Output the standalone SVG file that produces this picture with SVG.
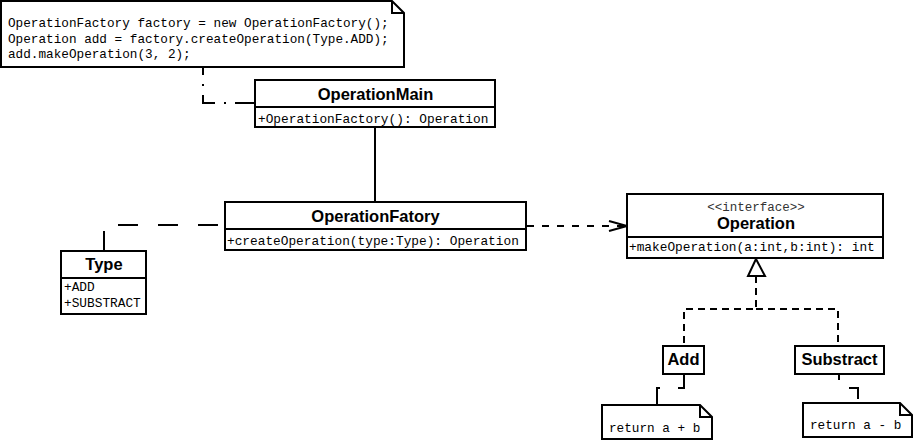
<svg xmlns="http://www.w3.org/2000/svg" width="915" height="442" viewBox="0 0 915 442">
<style>
.box{fill:#fff;stroke:#000;stroke-width:2}
.ln{fill:none;stroke:#000;stroke-width:2}
.title{font-family:"Liberation Sans",Arial,sans-serif;font-weight:bold;font-size:16.5px;fill:#000;text-anchor:middle}
.mem{font-family:"Liberation Mono","Courier New",monospace;font-size:12.8px;fill:#000}
.note{font-family:"Liberation Mono","Courier New",monospace;font-size:12.7px;fill:#000}
.stereo{font-family:"Liberation Mono","Courier New",monospace;font-size:12.5px;fill:#333;text-anchor:middle}
</style>
<rect width="915" height="442" fill="#fff"/>
<g id="connectors">
<path class="ln" d="M255,103 H203 V67" stroke-dasharray="20,9,2,9"/>
<path class="ln" d="M375,127 V202"/>
<path class="ln" d="M104,251 V225 H225" stroke-dasharray="20,20"/>
<path class="ln" d="M527,226 H626" stroke-dasharray="7,8"/>
<polyline class="ln" points="609,221 627,226 609,231"/>
<path class="ln" d="M756,276 V309 H684 V346" stroke-dasharray="7,5"/>
<path class="ln" d="M756,309 H838 V346" stroke-dasharray="7,5"/>
<polygon class="box" points="756,259 748,276 765,276"/>
<path class="ln" d="M684,374 V388 H657 V405" stroke-dasharray="20,18"/>
<path class="ln" d="M839,374 V388 H858 V403" stroke-dasharray="20,18" stroke-dashoffset="14"/>
</g>
<g id="note-main">
<path class="box" d="M1,1 H392 L404,13 V67 H1 Z"/>
<path class="ln" d="M392,1 V13 H404"/>
<text class="note" x="8" y="27">OperationFactory factory = new OperationFactory();</text>
<text class="note" x="8" y="42.5">Operation add = factory.createOperation(Type.ADD);</text>
<text class="note" x="8" y="58">add.makeOperation(3, 2);</text>
</g>
<g id="OperationMain">
<rect class="box" x="255" y="80" width="240" height="47"/>
<line class="ln" x1="255" y1="107" x2="495" y2="107"/>
<text class="title" x="375.5" y="100">OperationMain</text>
<text class="mem" x="258" y="123">+OperationFactory(): Operation</text>
</g>
<g id="OperationFatory">
<rect class="box" x="225" y="202" width="301" height="48"/>
<line class="ln" x1="225" y1="229" x2="526" y2="229"/>
<text class="title" x="375.5" y="222">OperationFatory</text>
<text class="mem" x="227" y="245">+createOperation(type:Type): Operation</text>
</g>
<g id="Type">
<rect class="box" x="61" y="251" width="85" height="63"/>
<line class="ln" x1="61" y1="278" x2="146" y2="278"/>
<text class="title" x="104" y="270">Type</text>
<text class="mem" x="64" y="291">+ADD</text>
<text class="mem" x="64" y="307">+SUBSTRACT</text>
</g>
<g id="Operation">
<rect class="box" x="627" y="194" width="256" height="64"/>
<line class="ln" x1="627" y1="237" x2="883" y2="237"/>
<text class="stereo" x="756" y="211">&lt;&lt;interface&gt;&gt;</text>
<text class="title" x="756" y="229">Operation</text>
<text class="mem" x="629" y="251">+makeOperation(a:int,b:int): int</text>
</g>
<g id="Add">
<rect class="box" x="663" y="346" width="41" height="28"/>
<text class="title" x="683.5" y="365">Add</text>
</g>
<g id="Substract">
<rect class="box" x="795" y="346" width="89" height="28"/>
<text class="title" x="839.5" y="365">Substract</text>
</g>
<g id="note-add">
<path class="box" d="M602,405 H700 L712,417 V439 H602 Z"/>
<path class="ln" d="M700,405 V417 H712"/>
<text class="note" x="609" y="432">return a + b</text>
</g>
<g id="note-substract">
<path class="box" d="M803,403 H900 L912,415 V437 H803 Z"/>
<path class="ln" d="M900,403 V415 H912"/>
<text class="note" x="810" y="429">return a - b</text>
</g>
</svg>
